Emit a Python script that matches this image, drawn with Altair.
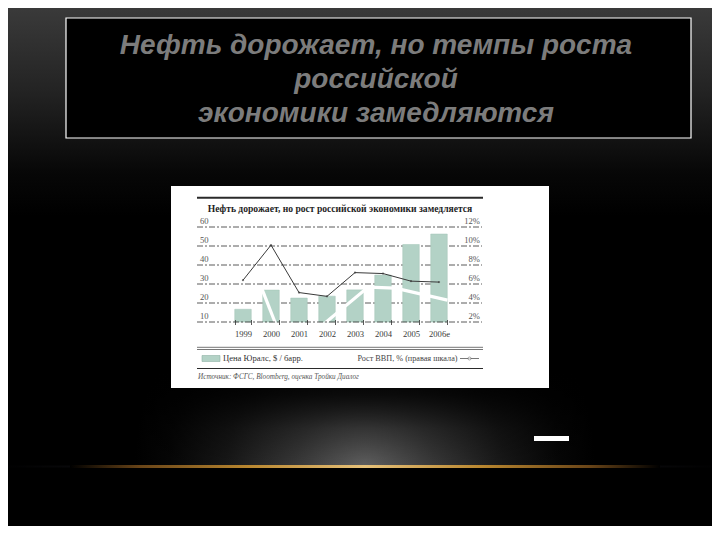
import altair as alt
import pandas as pd

# ---------------- data ----------------
years = ["1999", "2000", "2001", "2002", "2003", "2004", "2005", "2006е"]
urals = [16.7, 26.8, 22.6, 23.6, 26.9, 34.7, 50.8, 56.3]          # $ / barrel
gdp = [6.4, 10.1, 5.1, 4.7, 7.2, 7.1, 6.3, 6.2]                  # % growth (right scale)
left_ticks = [10, 20, 30, 40, 50, 60]
right_labels = ["2%", "4%", "6%", "8%", "10%", "12%"]
right_ticks = [2, 4, 6, 8, 10, 12]

# white streak visible across the bars in the scanned picture (category index, $ value)
streak_i = [0.68, 1.15, 2.94, 4.47, 5.44, 7.3]
streak_v = [27.3, 9.6, 9.6, 28.4, 27.8, 21.5]
streak_seg = [0, 0, 1, 1, 1, 1]

slide_title = ["Нефть дорожает, но темпы роста", "российской", "экономики замедляются"]
chart_title = "Нефть дорожает, но рост российской экономики замедляется"
legend_bar = "Цена Юралс, $ / барр."
legend_line = "Рост ВВП, % (правая шкала)"
source = "Источник: ФСГС, Bloomberg, оценка Тройки Диалог"

# ---------------- layout ----------------
W, H = 285, 95           # inner plot area
OX, OY = 197, 227        # window position of plot origin
PAD_L, PAD_T = OX - 8, OY - 8
CANVAS_W, CANVAS_H = 704, 518


def rx(X):
    return X - OX


def ry(Y):
    return Y - OY


n = len(years)
STEP = 28.0
C0 = 46.0                # centre of first band, relative to plot left
P_IN = 0.41
xscale = alt.Scale(domain=years, paddingInner=P_IN, paddingOuter=P_IN / 2,
                   range=[C0 - STEP / 2, C0 + (n - 0.5) * STEP])
xq_domain = [-C0 / STEP, (W - C0) / STEP]
yscale = alt.Scale(domain=[10, 60], nice=False, zero=False)
y2scale = alt.Scale(domain=[2, 12], nice=False, zero=False)

BAR = "#b3d2c6"
DARK = "#2a2a2a"
SERIF = "Liberation Serif"

one = pd.DataFrame({"a": [0]})


def box(x1, y1, x2, y2, **kw):
    return alt.Chart(one).mark_rect(**kw).encode(
        x=alt.value(rx(x1)), x2=alt.value(rx(x2)), y=alt.value(ry(y1)), y2=alt.value(ry(y2))
    )


def hline(x1, x2, y, **kw):
    return alt.Chart(one).mark_rule(**kw).encode(
        x=alt.value(rx(x1)), x2=alt.value(rx(x2)), y=alt.value(ry(y))
    )


def label(text, x, y, **kw):
    return alt.Chart(one).mark_text(**kw).encode(
        x=alt.value(rx(x)), y=alt.value(ry(y)), text=alt.value(text)
    )


# ---------------- slide decoration ----------------
bg = box(0, 0, 720, 540, color=alt.LinearGradient(
    gradient="linear", x1=0, y1=0, x2=0, y2=1,
    stops=[alt.GradientStop(offset=0, color="#3c3c3c"),
           alt.GradientStop(offset=0.17, color="#232323"),
           alt.GradientStop(offset=0.32, color="#070707"),
           alt.GradientStop(offset=0.4, color="#000000"),
           alt.GradientStop(offset=1, color="#000000")]))

# glow above the golden line (radial, then faded towards the top)
GX1, GX2, GY1, GY2 = 120, 610, 372, 467
gcy = 0.5 + (GY2 - GY1) / 2 / (GX2 - GX1)
glow = box(GX1, GY1, GX2, GY2, color=alt.RadialGradient(
    gradient="radial", x1=0.5, y1=gcy, x2=0.5, y2=gcy, r1=0, r2=0.47,
    stops=[alt.GradientStop(offset=0, color="#606060"),
           alt.GradientStop(offset=0.3, color="#383838"),
           alt.GradientStop(offset=0.6, color="#171717"),
           alt.GradientStop(offset=0.85, color="#050505"),
           alt.GradientStop(offset=1, color="#000000")]))
glow_fade = box(GX1, GY1 - 1, GX2, GY2, color=alt.LinearGradient(
    gradient="linear", x1=0, y1=0, x2=0, y2=1,
    stops=[alt.GradientStop(offset=0, color="rgba(0,0,0,1)"),
           alt.GradientStop(offset=0.25, color="rgba(0,0,0,0.8)"),
           alt.GradientStop(offset=0.6, color="rgba(0,0,0,0.3)"),
           alt.GradientStop(offset=1, color="rgba(0,0,0,0)")]))

faint_line = box(0, 465.5, 720, 467.5, color=alt.LinearGradient(
    gradient="linear", x1=0, y1=0, x2=1, y2=0,
    stops=[alt.GradientStop(offset=0, color="#000000"),
           alt.GradientStop(offset=0.5, color="#2a2a33"),
           alt.GradientStop(offset=1, color="#000000")]))

gold_line = box(70, 465, 660, 468, color=alt.LinearGradient(
    gradient="linear", x1=0, y1=0, x2=1, y2=0,
    stops=[alt.GradientStop(offset=0, color="#000000"),
           alt.GradientStop(offset=0.12, color="#6a4518"),
           alt.GradientStop(offset=0.3, color="#b8862f"),
           alt.GradientStop(offset=0.5, color="#e7c27a"),
           alt.GradientStop(offset=0.7, color="#b8862f"),
           alt.GradientStop(offset=0.88, color="#6a4518"),
           alt.GradientStop(offset=1, color="#000000")]))

white_dash = box(534, 436, 569, 441, color="#ffffff")

title_box = box(66, 18, 691, 138, fill="#000000", stroke="#ffffff", strokeWidth=1.2)
title_text = alt.Chart(one).mark_text(
    font="Liberation Sans", fontSize=28, fontStyle="italic", fontWeight="bold",
    color="#7c7c7c", align="center", baseline="alphabetic", lineHeight=34
).encode(x=alt.value(rx(376)), y=alt.value(ry(54)), text=alt.value(slide_title))

panel = box(171, 186, 549, 388, color="#ffffff")

# ---------------- inner chart frame ----------------
top_rule = hline(197, 483, 197.7, color=DARK, strokeWidth=2)
ctitle = label(chart_title, 340, 211.5, font=SERIF, fontSize=9.6, fontWeight="bold",
               color="#1e1e1e", align="center", baseline="alphabetic")
dbl1 = hline(197, 483, 347.3, color="#666666", strokeWidth=0.9)
dbl2 = hline(197, 483, 349.5, color="#666666", strokeWidth=0.9)
leg_sw = box(202, 355.5, 220, 361.5, fill=BAR, stroke="#8fb2a4", strokeWidth=0.6)
leg_t1 = label(legend_bar, 223, 361, font=SERIF, fontSize=8.6, color="#333333",
               align="left", baseline="alphabetic")
leg_t2 = label(legend_line, 457.5, 361, font=SERIF, fontSize=8.2, color="#444444",
               align="right", baseline="alphabetic")
leg_ln = hline(460, 479, 358.5, color="#555555", strokeWidth=0.8)
leg_pt = alt.Chart(one).mark_point(shape="circle", size=9, filled=True, fill="#ffffff",
                                   stroke="#555555", strokeWidth=0.7).encode(
    x=alt.value(rx(469.5)), y=alt.value(ry(358.5)))
bot_rule = hline(197, 483, 368.5, color=DARK, strokeWidth=1)
src = label(source, 198, 379, font=SERIF, fontSize=7.2, fontStyle="italic",
            color="#555555", align="left", baseline="alphabetic")

# ---------------- data layers ----------------
df = pd.DataFrame({"year": years, "urals": urals, "gdp": gdp})

grid = alt.Chart(pd.DataFrame({"v": left_ticks[1:]})).mark_rule(
    color="#303030", strokeWidth=0.8, strokeDash=[6, 2, 2, 2]
).encode(y=alt.Y("v:Q", scale=yscale, axis=None), x=alt.value(0), x2=alt.value(W))

bars = alt.Chart(df).mark_bar(fill=BAR, stroke="#a3c4b7", strokeWidth=0.5).encode(
    x=alt.X("year:N", sort=years, scale=xscale, title=None,
            axis=alt.Axis(orient="bottom", domain=False, grid=False, ticks=True,
                          tickBand="extent", tickSize=5, tickColor="#303030",
                          tickWidth=0.8, offset=-2.5, labelPadding=5, zindex=2,
                          labelFont=SERIF, labelFontSize=8.6, labelColor="#3a3a3a",
                          labelAngle=0, labelBaseline="top")),
    y=alt.Y("urals:Q", scale=yscale, axis=None),
    y2=alt.datum(10),
)

streak = alt.Chart(pd.DataFrame({"i": streak_i, "v": streak_v, "s": streak_seg})).mark_line(
    color="#ffffff", strokeWidth=3.2, strokeCap="butt"
).encode(
    x=alt.X("i:Q", scale=alt.Scale(domain=xq_domain, nice=False, zero=False), axis=None),
    y=alt.Y("v:Q", scale=yscale, axis=None),
    detail="s:N",
    order="i:Q",
)

baseline = alt.Chart(pd.DataFrame({"v": [left_ticks[0]]})).mark_rule(
    color="#303030", strokeWidth=0.8, strokeDash=[6, 2, 2, 2]
).encode(y=alt.Y("v:Q", scale=yscale, axis=None), x=alt.value(0), x2=alt.value(W))

gdp_line = alt.Chart(df).mark_line(color="#3a3a3a", strokeWidth=1).encode(
    x=alt.X("year:N", sort=years, scale=xscale, axis=None),
    y=alt.Y("gdp:Q", scale=y2scale, axis=None),
)
gdp_pts = alt.Chart(df).mark_point(shape="circle", size=5, filled=True, color="#3a3a3a").encode(
    x=alt.X("year:N", sort=years, scale=xscale, axis=None),
    y=alt.Y("gdp:Q", scale=y2scale, axis=None),
)

left_lab = alt.Chart(pd.DataFrame({"v": left_ticks, "t": [str(v) for v in left_ticks]})).mark_text(
    font=SERIF, fontSize=8.6, color="#555555", align="left", baseline="alphabetic", dy=-3
).encode(y=alt.Y("v:Q", scale=yscale, axis=None), x=alt.value(3), text="t:N")

right_lab = alt.Chart(pd.DataFrame({"v": right_ticks, "t": right_labels})).mark_text(
    font=SERIF, fontSize=8.6, color="#555555", align="right", baseline="alphabetic", dy=-3
).encode(y=alt.Y("v:Q", scale=y2scale, axis=None), x=alt.value(W - 2), text="t:N")

chart = alt.layer(
    bg, glow, glow_fade, faint_line, gold_line, white_dash, title_box, title_text, panel,
    top_rule, ctitle, dbl1, dbl2, leg_sw, leg_t1, leg_t2, leg_ln, leg_pt, bot_rule, src,
    grid, bars, streak, baseline, gdp_line, gdp_pts, left_lab, right_lab,
).resolve_scale(x="independent", y="independent").properties(
    width=W, height=H,
    autosize=alt.AutoSizeParams(type="none"),
    padding={"left": PAD_L, "top": PAD_T,
             "right": CANVAS_W - PAD_L - W, "bottom": CANVAS_H - PAD_T - H},
    background="#000000",
).configure_view(strokeWidth=0, fill=None)

chart.save("out.html", embed_options={"renderer": "svg", "actions": False})
